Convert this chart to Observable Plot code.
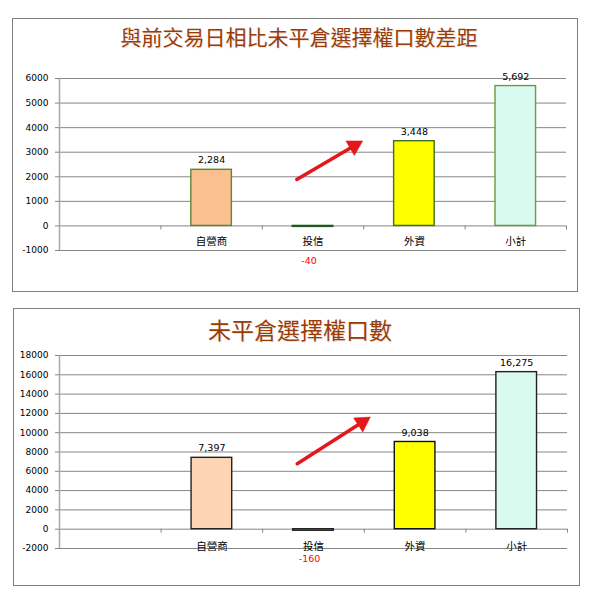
<!DOCTYPE html>
<html>
<head>
<meta charset="utf-8">
<script src="https://cdn.jsdelivr.net/npm/d3@7"></script>
<script src="https://cdn.jsdelivr.net/npm/@observablehq/plot@0.6"></script>
<style>
  body { margin: 0; background: #fff; width: 594px; height: 600px; position: relative; overflow: hidden; }
  .panel { position: absolute; box-sizing: border-box; border: 1px solid #7f7f7f; background: #fff; }
  .title { position: absolute; left: 0; width: 594px; text-align: center; color: #9A3B0A;
           font-family: "Noto Sans CJK TC", sans-serif; font-weight: 400; line-height: 1; white-space: nowrap;
           text-shadow: 1px 1px 0 rgba(150, 90, 30, 0.18); }
  .chart { position: absolute; }
</style>
</head>
<body>
<div class="panel" style="left:12px;top:18px;width:566px;height:274px"></div>
<div class="panel" style="left:13px;top:308px;width:567px;height:278px"></div>
<div class="title" id="t1" style="top:26px;font-size:21px;left:2px"></div>
<div class="title" id="t2" style="top:318px;font-size:23px;left:3px"></div>
<div class="chart" id="c1" style="left:12px;top:58px"></div>
<div class="chart" id="c2" style="left:13px;top:340px"></div>
<script>
// ---- data ----
const categories = ["", "自營商", "投信", "外資", "小計"];
const title1 = "與前交易日相比未平倉選擇權口數差距";
const diffValues = [null, 2284, -40, 3448, 5692];
const diffTicks = [-1000, 0, 1000, 2000, 3000, 4000, 5000, 6000];
const title2 = "未平倉選擇權口數";
const oiValues = [null, 7397, -160, 9038, 16275];
const oiTicks = [-2000, 0, 2000, 4000, 6000, 8000, 10000, 12000, 14000, 16000, 18000];
// annotation arrows (category-slot position, value)
const arrow1 = [{x1: 2.34, y1: 1890, x2: 2.98, y2: 3435}];
const arrow2 = [{x1: 2.34, y1: 6780, x2: 3.05, y2: 11550}];

// ---- styles ----
const fills1 = [null, "#FAC090", "#D9F9EE", "#FFFF00", "#D9FBEF"];
const strokes1 = [null, "#5A8A2E", "#1E5A1E", "#3F6F1F", "#6A9A3A"];
const fills2 = [null, "#FCD5B4", "#D9FBEF", "#FFFF00", "#D9FBEF"];
const strokes2 = [null, "#222222", "#222222", "#111111", "#222222"];
const arrowColor = "#E5161C";

document.getElementById("t1").textContent = title1;
document.getElementById("t2").textContent = title2;

function makeChart(values, ticks, fills, strokes, arrows, opts) {
  const rows = categories.map((name, i) => ({i, name, value: values[i], fill: fills[i], stroke: strokes[i]}))
    .filter(d => d.value != null);
  const pos = rows.filter(d => d.value >= 0);
  const neg = rows.filter(d => d.value < 0);
  const cats = categories.map((name, i) => ({i, name})).filter(d => d.name !== "");
  const bounds = categories.map((_, i) => i + 1);
  const fmt = d3.format(",");
  const rot = opts.arrowRotate * Math.PI / 180;
  const back = 8.5;
  return Plot.plot({
    width: opts.width,
    height: opts.height,
    marginLeft: opts.marginLeft,
    marginRight: opts.marginRight,
    marginTop: opts.marginTop,
    marginBottom: opts.marginBottom,
    style: {background: "transparent", fontFamily: "DejaVu Sans, sans-serif", fontSize: "9px", color: "black"},
    x: {domain: [0, categories.length], axis: null},
    y: {domain: [ticks[0], ticks[ticks.length - 1]], axis: null},
    color: {type: "identity"},
    marks: [
      Plot.ruleY(ticks, {stroke: "#868686", strokeWidth: 1}),
      Plot.ruleX([0], {stroke: "#a8a8a8", strokeWidth: 1.5}),
      Plot.ruleX(bounds, {y1: 0, y2: 0, insetBottom: -4, stroke: "#868686"}),
      Plot.axisY({ticks, tickSize: 4, tickPadding: 7, stroke: "#868686", fill: "black",
                  tickFormat: d => String(d), fontSize: 9, label: null}),
      Plot.rectY(rows, {x1: d => d.i + 0.3, x2: d => d.i + 0.7, y1: 0, y2: d => d.value,
                        fill: d => d.fill, stroke: d => d.stroke, strokeWidth: 1.4}),
      Plot.text(pos, {x: d => d.i + 0.5, y: d => d.value, text: d => fmt(d.value), dy: -9.5,
                      fontSize: 9.5, fill: "black"}),
      Plot.text(neg, {x: d => d.i + 0.5, frameAnchor: "bottom", text: d => String(d.value), dy: 13, dx: -4,
                      fontSize: 9.5, fill: "#FF0000"}),
      Plot.text(cats, {x: d => d.i + 0.5, y: 0, text: "name", dy: opts.catDy,
                       fontFamily: "Noto Sans CJK TC, sans-serif", fontSize: 10.5, fill: "black"}),
      Plot.arrow(arrows, {x1: "x1", y1: "y1", x2: "x2", y2: "y2", stroke: arrowColor,
                          strokeWidth: 3.5, headLength: 0, insetEnd: 9, strokeLinecap: "round"}),
      Plot.dot(arrows, {x: "x2", y: "y2", symbol: "triangle", r: 6.2, fill: arrowColor, stroke: arrowColor,
                        strokeWidth: 0.5, rotate: opts.arrowRotate,
                        dx: -back * Math.sin(rot), dy: back * Math.cos(rot)})
    ]
  });
}

document.getElementById("c1").append(makeChart(diffValues, diffTicks, fills1, strokes1, arrow1,
  {width: 565, height: 233, marginLeft: 47, marginRight: 11, marginTop: 20, marginBottom: 41, catDy: 16, arrowRotate: 60}));
document.getElementById("c2").append(makeChart(oiValues, oiTicks, fills2, strokes2, arrow2,
  {width: 567, height: 245, marginLeft: 46, marginRight: 13, marginTop: 15, marginBottom: 37, catDy: 17, arrowRotate: 57}));
</script>
</body>
</html>
